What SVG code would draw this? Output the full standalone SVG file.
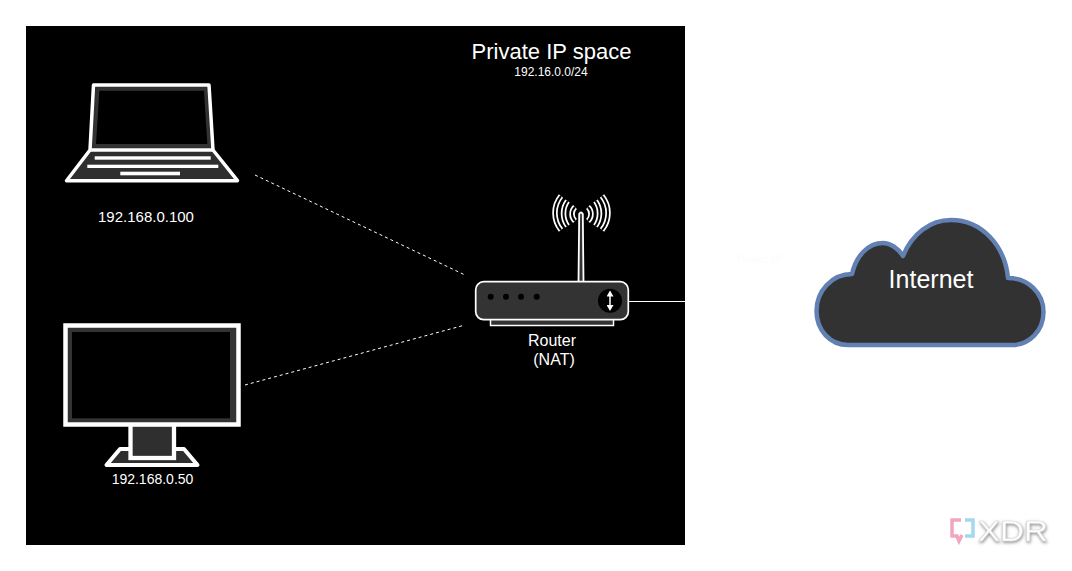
<svg xmlns="http://www.w3.org/2000/svg" width="1072" height="571" viewBox="0 0 1072 571">
<style>
text{font-family:"Liberation Sans",Arial,sans-serif;fill:#fff;text-anchor:middle}
.o{fill:#2f2f2f;stroke:#fff;stroke-width:3;stroke-linejoin:round}
.w{fill:#fff}
.g{fill:#333}
.k{fill:#000}
.d{fill:none;stroke:#fff;stroke-width:1;stroke-dasharray:3 3}
.aw{fill:none;stroke:#fff;stroke-width:5.500}
.ak{fill:none;stroke:#000;stroke-width:2}
</style>
<defs>
<filter id="blur" x="-20%" y="-20%" width="140%" height="140%"><feGaussianBlur stdDeviation="0.7"/></filter>
<filter id="shadow" x="-20%" y="-20%" width="140%" height="150%"><feDropShadow dx="0.5" dy="1.5" stdDeviation="1.5" flood-color="#888"/></filter>
<marker id="ah" markerWidth="7" markerHeight="7" refX="3" refY="3.500" orient="auto-start-reverse" markerUnits="userSpaceOnUse"><path d="M0 0L6 3.500L0 7Z" fill="#fff"/></marker>
</defs>
<rect width="1072" height="571" fill="#fff"/>
<rect id="private-space" x="26" y="26" width="659" height="519" fill="#000"/>
<text x="551.500" y="59" font-size="22">Private IP space</text>
<text x="551" y="76" font-size="12">192.16.0.0/24</text>

<g id="connectors">
<line class="d" x1="255" y1="175" x2="465" y2="275"/>
<line class="d" x1="245" y1="385" x2="465" y2="325"/>
<line x1="629" y1="301.500" x2="685" y2="301.500" stroke="#fff" stroke-width="1"/>
</g>

<g id="laptop">
<path class="o" d="M93.500 85H209L213 150L237.500 180.700H66.500L90 150Z" style="stroke-width:3.500"/>
<path class="g" d="M97 88H206L210 147H92.500Z"/>
<path class="k" d="M99.300 90.700H204L207.300 144H96Z"/>
<path d="M90 150H213" stroke="#fff" stroke-width="3.500"/>
<rect class="w" x="94.700" y="156.300" width="116" height="3.400"/>
<rect class="w" x="87.300" y="164.700" width="131" height="3.300"/>
<rect class="w" x="120.300" y="171.700" width="59.700" height="3.600"/>
<text x="146" y="222" font-size="15">192.168.0.100</text>
</g>

<g id="monitor">
<path class="o" d="M120 449H184L197.500 465H106.500Z" style="stroke-width:4"/>
<rect class="o" x="130.500" y="424" width="43.500" height="34" style="stroke-width:4.300;stroke-linejoin:miter"/>
<rect x="65.500" y="325.500" width="173" height="99" fill="#333" stroke="#fff" stroke-width="4.500"/>
<rect class="k" x="72" y="332" width="158" height="86.300"/>
<text x="152.500" y="484" font-size="14">192.168.0.50</text>
</g>

<g id="router">
<path class="aw" d="M575 207A9.700 9.700 0 0 0 575 221M567.500 201A21.500 21.500 0 0 0 567.500 226M561 196A27 27 0 0 0 561 230M588 207A9.700 9.700 0 0 1 588 221M595.500 201A21.500 21.500 0 0 1 595.500 226M602 196A27 27 0 0 1 602 230"/>
<path class="ak" d="M575 207A9.700 9.700 0 0 0 575 221M567.500 201A21.500 21.500 0 0 0 567.500 226M561 196A27 27 0 0 0 561 230M588 207A9.700 9.700 0 0 1 588 221M595.500 201A21.500 21.500 0 0 1 595.500 226M602 196A27 27 0 0 1 602 230"/>
<path d="M578.500 282L579.200 214Q581 211 582.800 214L583.500 282Z" fill="#333" stroke="#fff" stroke-width="1.800"/>
<rect x="490.500" y="318" width="123" height="7.500" fill="#333" stroke="#fff" stroke-width="1.500"/>
<rect x="475.700" y="281.700" width="152.600" height="38" rx="8" fill="#333" stroke="#fff" stroke-width="1.700"/>
<circle class="k" cx="490.700" cy="296.700" r="3"/>
<circle class="k" cx="506" cy="296.700" r="3"/>
<circle class="k" cx="521" cy="296.700" r="3"/>
<circle class="k" cx="536.700" cy="296.700" r="3"/>
<circle class="k" cx="610" cy="300.700" r="12"/>
<line x1="610" y1="293.500" x2="610" y2="308" stroke="#fff" stroke-width="1.500" marker-start="url(#ah)" marker-end="url(#ah)"/>
<text x="552" y="346" font-size="16">Router</text>
<text x="554" y="365" font-size="16">(NAT)</text>
</g>

<g id="public-ip">
<text x="759.500" y="263" font-size="11.500" style="fill:#fcfcfc">Public IP</text>
</g>

<g id="internet">
<path d="M848 345C830 345 816.500 330 816.500 311C816.500 291 832 274 852 274C856 256 868 243 883 243C890 243 898 248 903 256C912 234 930 220 951 220C982 220 1005 246 1008 278C1028 278 1043.500 293 1043.500 312C1043.500 331 1029 345 1012 345Z" fill="#323232" stroke="#6380b3" stroke-width="4.500" stroke-linejoin="round"/>
<text x="931" y="288" font-size="25">Internet</text>
</g>

<g id="watermark" filter="url(#blur)">
<path d="M961 520H952V536H957L959 541L962 535" fill="none" stroke="#f2a5bd" stroke-width="3.500"/>
<path d="M965 520H973V536H965" fill="none" stroke="#a3d8f0" stroke-width="3.500"/>
<text x="1013" y="541" font-size="30" textLength="70" lengthAdjust="spacingAndGlyphs" stroke="#d8d8d8" stroke-width="0.600" filter="url(#shadow)">XDR</text>
</g>
</svg>
